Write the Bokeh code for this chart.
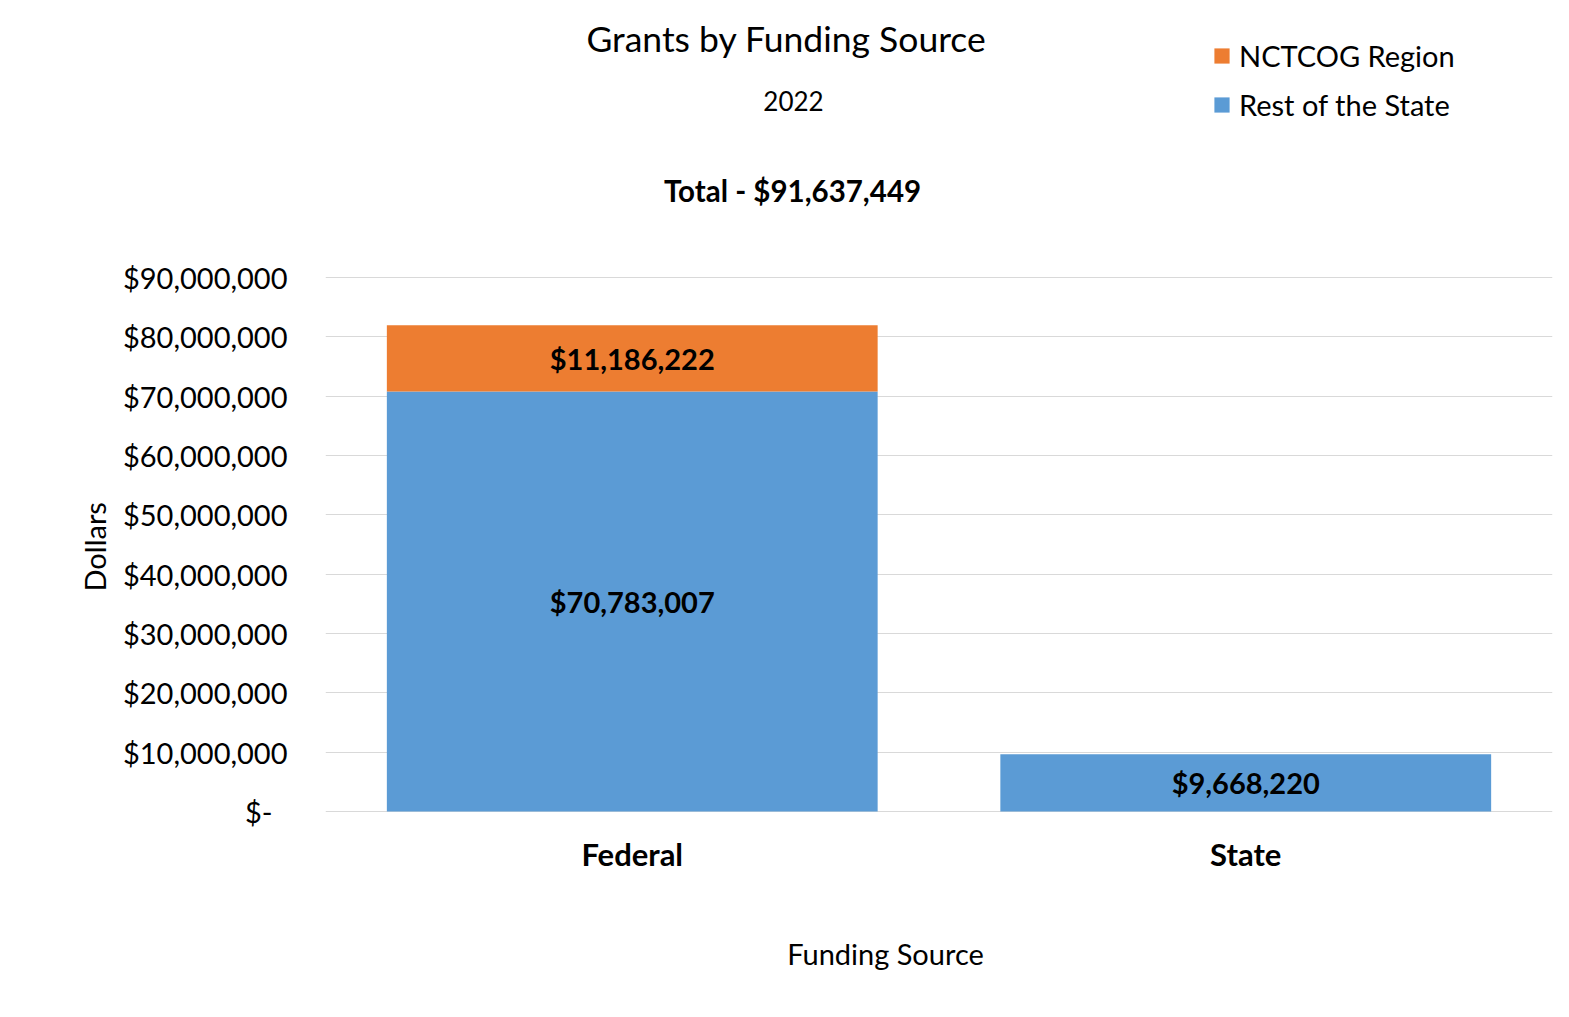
from bokeh.plotting import figure
from bokeh.models import (ColumnDataSource, Label, LabelSet, Legend, LegendItem,
                          FixedTicker, Range1d, FactorRange, Title)
from bokeh.core.properties import value
from bokeh.embed import file_html
from bokeh.resources import INLINE

# ---------------- data ----------------
categories = ["Federal", "State"]
rest_of_state = [70783007, 9668220]
nctcog_region = [11186222, 0]
y_ticks = [0, 10000000, 20000000, 30000000, 40000000, 50000000,
           60000000, 70000000, 80000000, 90000000]
y_tick_labels = ["$-\u00a0\u00a0", "$10,000,000", "$20,000,000", "$30,000,000",
                 "$40,000,000", "$50,000,000", "$60,000,000", "$70,000,000",
                 "$80,000,000", "$90,000,000"]
title_text = "Grants by Funding Source"
subtitle_text = "2022"
x_label = "Funding Source"
y_label = "Dollars"

BLUE = "#5B9BD5"
ORANGE = "#ED7D31"
GRID = "#D9D9D9"
FONT = "Lato"

# ---------------- layout (pixels) ----------------
W, H = 1553, 1001
FRAME_L, FRAME_R, FRAME_T, FRAME_B = 325, 1552, 0, H
ZERO_PX, TOP_TICK_PX = 811, 277

y_top = max(y_ticks)
per_px = y_top / (ZERO_PX - TOP_TICK_PX)
y_start = -(FRAME_B - ZERO_PX) * per_px
y_end = (ZERO_PX - FRAME_T) * per_px

def dx(px):
    return (px - FRAME_L) / (FRAME_R - FRAME_L) * len(categories)

def dy(py):
    return (ZERO_PX - py) * per_px

total = sum(rest_of_state) + sum(nctcog_region)
total_text = f"Total - ${total:,}"

source = ColumnDataSource(dict(cat=categories, rest=rest_of_state, nctcog=nctcog_region))

p = figure(x_range=FactorRange(*categories), y_range=Range1d(y_start, y_end),
           width=W, height=H, output_backend="svg", toolbar_location=None,
           title=None, x_axis_location=None,
           min_border_left=FRAME_L, min_border_right=W - FRAME_R,
           min_border_top=0, min_border_bottom=0)
p.outline_line_color = None
p.background_fill_color = "white"
p.border_fill_color = "white"

rs = p.vbar_stack(["rest", "nctcog"], x="cat", width=0.8, color=[BLUE, ORANGE],
                  line_color=None, source=source)

# y axis
p.xgrid.grid_line_color = None
p.ygrid.grid_line_color = GRID
p.ygrid.grid_line_width = 1
p.yaxis.ticker = FixedTicker(ticks=y_ticks)
p.yaxis.major_label_overrides = {t: l for t, l in zip(y_ticks, y_tick_labels)}
p.yaxis.axis_line_color = None
p.yaxis.major_tick_line_color = None
p.yaxis.minor_tick_line_color = None
p.yaxis.major_tick_out = 0
p.yaxis.major_label_standoff = 38
p.yaxis.major_label_text_font = FONT
p.yaxis.major_label_text_font_size = "29px"
p.yaxis.major_label_text_color = "black"

# y axis title as a side title
p.add_layout(Title(text=y_label, align="left", offset=(FRAME_B - 591), standoff=16,
                   text_font=FONT, text_font_size="29px",
                   text_font_style="normal", text_color="black"), "left")

# category labels
csrc = ColumnDataSource(dict(x=categories, y=[dy(853)] * len(categories)))
p.add_layout(LabelSet(x="x", y="y", text="x", source=csrc, text_align="center",
                      text_baseline="middle", text_font=value(FONT),
                      text_font_size="31px", text_font_style="bold",
                      text_color="black"))

# data labels
lab_x, lab_y, lab_t = [], [], []
for c, r, n in zip(categories, rest_of_state, nctcog_region):
    if r:
        lab_x.append(c); lab_y.append(r / 2); lab_t.append(f"${r:,}")
    if n:
        lab_x.append(c); lab_y.append(r + n / 2); lab_t.append(f"${n:,}")
lsrc = ColumnDataSource(dict(x=lab_x, y=lab_y, t=lab_t))
p.add_layout(LabelSet(x="x", y="y", text="t", source=lsrc, text_align="center",
                      text_baseline="middle", text_font=value(FONT),
                      text_font_size="29px", text_font_style="bold",
                      text_color="black"))

# titles inside the (extended) frame
def frame_label(txt, cx, cy, size, style="normal"):
    return Label(x=dx(cx), y=dy(cy), text=txt,
                 text_align="center", text_baseline="middle",
                 text_font=FONT, text_font_size=size,
                 text_font_style=style, text_color="black")

p.add_layout(frame_label(title_text, 786, 38, "35.5px"))
p.add_layout(frame_label(subtitle_text, 793, 100, "26px"))
p.add_layout(frame_label(total_text, 792, 190, "29.5px", "bold"))
p.add_layout(frame_label(x_label, 885, 953, "29px"))

# legend
legend = Legend(items=[LegendItem(label="NCTCOG Region", renderers=[rs[1]]),
                       LegendItem(label="Rest of the State", renderers=[rs[0]])],
                location=(1212 - FRAME_L, FRAME_B - 124), orientation="vertical")
legend.label_text_font = FONT
legend.label_text_font_size = "29px"
legend.label_text_color = "black"
legend.glyph_width = 19
legend.glyph_height = 19
legend.label_standoff = 8
legend.label_height = 39
legend.spacing = 10
legend.padding = 0
legend.margin = 0
legend.border_line_color = None
legend.background_fill_alpha = 0
p.add_layout(legend)

open("out.html", "w").write(file_html(p, INLINE))
